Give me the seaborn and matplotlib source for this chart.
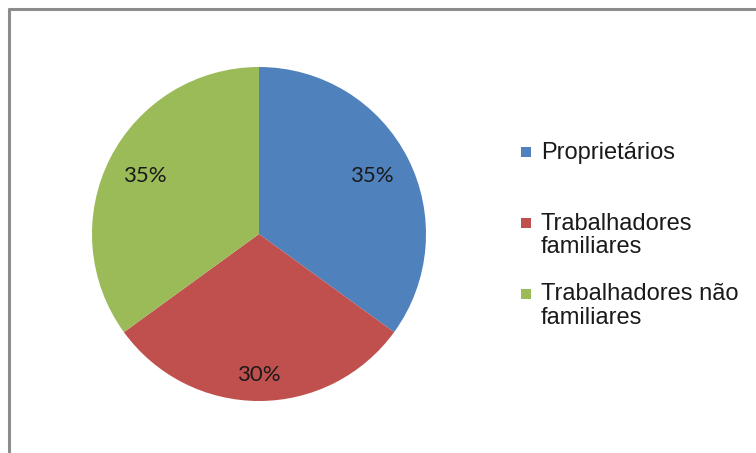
import matplotlib
matplotlib.use("Agg")
import matplotlib.pyplot as plt
from matplotlib.lines import Line2D
import numpy as np
import seaborn as sns

# Composição da mão de obra (%)
categories = ["Proprietários", "Trabalhadores familiares", "Trabalhadores não familiares"]
# legend rows are all two lines tall so the entries sit evenly spaced
legend_labels = ["Proprietários\n", "Trabalhadores\nfamiliares", "Trabalhadores não\nfamiliares"]
shares = [35, 30, 35]
colors = ["#4F81BD", "#C0504D", "#9BBB59"]

# radial position of each percentage label (fraction of the radius)
label_radius = [0.76, 0.845, 0.77]

sns.set_theme(style="white")
plt.rcParams["font.family"] = ["Liberation Sans", "DejaVu Sans"]

W, H = 756, 453
fig = plt.figure(figsize=(W / 100, H / 100), dpi=100)
fig.patch.set_facecolor("white")

cx, cy, r = 259, 234, 167
ax = fig.add_axes([(cx - r) / W, (H - cy - r) / H, 2 * r / W, 2 * r / H])

wedges, _ = ax.pie(shares, colors=colors, startangle=90, counterclock=False,
                   wedgeprops=dict(linewidth=0), radius=1)
ax.set_xlim(-1, 1)
ax.set_ylim(-1, 1)
ax.set_aspect("equal")
ax.axis("off")

for w, val, rad in zip(wedges, shares, label_radius):
    mid = np.deg2rad((w.theta1 + w.theta2) / 2)
    ax.text(rad * np.cos(mid), rad * np.sin(mid), f"{val}%",
            ha="center", va="center", fontsize=16, color="#1a1a1a",
            family=["Lato", "DejaVu Sans"])

handles = [Line2D([], [], linestyle="none", marker="s", markersize=7.2,
                  markerfacecolor=c, markeredgewidth=0) for c in colors]
leg = fig.legend(handles, legend_labels, loc="upper left",
                 bbox_to_anchor=(521 / W, 1 - 142 / H), frameon=False,
                 fontsize=17, borderpad=0, borderaxespad=0,
                 handlelength=0.42, handleheight=1.27, handletextpad=0.42,
                 labelspacing=1.06)
for col in leg._legend_handle_box.get_children():
    for row in col.get_children():
        row.align = "top"
for t in leg.get_texts():
    t.set_color("#1a1a1a")
    t.set_linespacing(1.1)

# chart area border (left and top edges)
frame_kw = dict(transform=fig.transFigure, color="#8c8c8c", linewidth=2.2,
                solid_capstyle="butt")
fig.add_artist(Line2D([9 / W, 9 / W], [0, 1 - 8 / H], **frame_kw))
fig.add_artist(Line2D([8 / W, 1], [1 - 9 / H, 1 - 9 / H], **frame_kw))

fig.savefig("out.png", dpi=100, facecolor="white")
